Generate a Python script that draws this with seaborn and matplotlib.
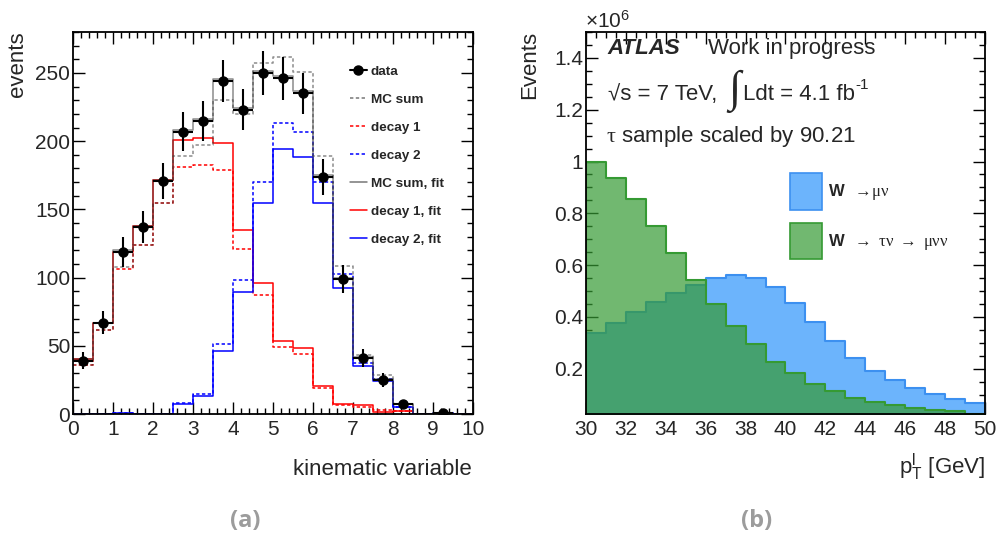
import numpy as np
import matplotlib
matplotlib.use("Agg")
import matplotlib.pyplot as plt
import seaborn as sns
from matplotlib.lines import Line2D
from matplotlib.patches import Patch
from matplotlib.ticker import MultipleLocator, FuncFormatter

# ---------------- panel (a): two-component template fit ----------------
edges_a = np.arange(0.0, 10.01, 0.5)
data_counts = [39, 67, 119, 137, 171, 207, 215, 244, 223, 250,
               246, 235, 174, 99, 41, 25, 7, 0, 1, 0]
decay1_mc = [35.6, 61.5, 106.6, 123.7, 154.7, 181.0, 182.8, 179.0, 121.3, 87.1,
             48.8, 43.7, 18.8, 6.3, 5.5, 2.9, 2.0, 0, 0, 0]
decay2_mc = [0, 0, 1.0, 0.3, 0, 8.0, 14.6, 51.0, 98.6, 170.0,
             213.0, 206.7, 170.0, 102.3, 37.6, 25.6, 5.5, 0, 1.0, 0]
decay1_fit = [40.0, 67.0, 119.0, 137.6, 171.8, 200.6, 202.5, 199.0, 134.7, 96.4,
              53.7, 48.5, 20.5, 7.3, 6.6, 1.5, 2.4, 0, 0, 0]
decay2_fit = [0, 0, 1.0, 0.3, 0, 7.3, 13.4, 46.4, 89.5, 154.7,
              194.0, 188.3, 154.7, 92.5, 35.4, 24.4, 4.9, 0, 1.0, 0]

# ---------------- panel (b): muon pT spectra, in units of 10^6 events ----------------
edges_b = np.arange(30, 51, 1)
w_munu = [0.337, 0.378, 0.419, 0.456, 0.492, 0.524, 0.549, 0.561, 0.551, 0.515,
          0.454, 0.379, 0.306, 0.243, 0.193, 0.155, 0.124, 0.101, 0.083, 0.068]
w_taunu = [1.000, 0.935, 0.856, 0.751, 0.648, 0.543, 0.450, 0.365, 0.295, 0.224,
           0.185, 0.142, 0.115, 0.088, 0.073, 0.060, 0.050, 0.040, 0.035, 0.027]

sns.set_style("ticks")
plt.rcParams["font.family"] = ["Liberation Sans", "DejaVu Sans"]
plt.rcParams["mathtext.fontset"] = "custom"
plt.rcParams["mathtext.rm"] = "Liberation Serif"
plt.rcParams["mathtext.it"] = "Liberation Serif"
plt.rcParams["mathtext.bf"] = "Liberation Sans:bold"
plt.rcParams["mathtext.sf"] = "Liberation Sans"
plt.rcParams["mathtext.default"] = "regular"

TICK_FS = 15
TITLE_FS = 16
LABEL_FS = 16

fig = plt.figure(figsize=(10.01, 5.40), dpi=100)
ax_a = fig.add_axes([0.0729, 0.2333, 0.3996, 0.7074])
ax_b = fig.add_axes([0.5854, 0.2333, 0.3986, 0.7074])


def step_hist(ax, edges, counts, **kw):
    centers = 0.5 * (edges[:-1] + edges[1:])
    sns.histplot(x=centers, weights=counts, bins=list(edges), element="step",
                 ax=ax, **kw)


def root_frame(ax, xmaj, xmin, ymaj, ymin):
    ax.xaxis.set_major_locator(MultipleLocator(xmaj))
    ax.xaxis.set_minor_locator(MultipleLocator(xmin))
    ax.yaxis.set_major_locator(MultipleLocator(ymaj))
    ax.yaxis.set_minor_locator(MultipleLocator(ymin))
    ax.tick_params(which="both", direction="in", top=True, right=True,
                   color="black", width=1.0)
    ax.tick_params(which="major", length=8.5)
    ax.tick_params(which="minor", length=4.2)
    ax.tick_params(axis="x", which="major", labelsize=TICK_FS, pad=4)
    ax.tick_params(axis="y", which="major", labelsize=TICK_FS, pad=2)
    for s in ax.spines.values():
        s.set_linewidth(1.3)
        s.set_color("black")
        s.set_zorder(5)
    ax.set_xlabel("")
    ax.set_ylabel("")


# ---- panel (a) ----
lw = 1.1
dash = (0, (2.2, 1.6))
step_hist(ax_a, edges_a, decay1_mc, fill=False, color="red", linestyle=dash, linewidth=lw)
step_hist(ax_a, edges_a, decay2_mc, fill=False, color="blue", linestyle=dash, linewidth=lw)
step_hist(ax_a, edges_a, decay1_fit, fill=False, color="red", linewidth=lw)
step_hist(ax_a, edges_a, decay2_fit, fill=False, color="blue", linewidth=lw)
mc_sum = np.add(decay1_mc, decay2_mc)
fit_sum = np.add(decay1_fit, decay2_fit)
step_hist(ax_a, edges_a, mc_sum, fill=False, color="#404040", alpha=0.6,
          linestyle=dash, linewidth=lw)
step_hist(ax_a, edges_a, fit_sum, fill=False, color="#404040", alpha=0.6, linewidth=lw)

centers_a = 0.5 * (edges_a[:-1] + edges_a[1:])
dc = np.asarray(data_counts, dtype=float)
nz = dc > 0
ax_a.errorbar(centers_a[nz], dc[nz], xerr=0.25, yerr=np.sqrt(dc[nz]), fmt="o",
              color="black", ms=6.5, elinewidth=1.5, capsize=0, zorder=4)

ax_a.set_xlim(0, 10)
ax_a.set_ylim(0, 280)
root_frame(ax_a, 1, 0.2, 50, 10)

handles_a = [
    Line2D([], [], color="black", marker="o", ms=6.5, lw=1.5),
    Line2D([], [], color="#777777", ls=dash, lw=lw),
    Line2D([], [], color="red", ls=dash, lw=lw),
    Line2D([], [], color="blue", ls=dash, lw=lw),
    Line2D([], [], color="#777777", lw=lw),
    Line2D([], [], color="red", lw=lw),
    Line2D([], [], color="blue", lw=lw),
]
labels_a = ["data", "MC sum", "decay 1", "decay 2", "MC sum, fit",
            "decay 1, fit", "decay 2, fit"]
ax_a.legend(handles_a, labels_a, loc="upper left", bbox_to_anchor=(0.6925, 0.912),
            frameon=False, borderpad=0, borderaxespad=0, handlelength=1.25,
            handletextpad=0.3, labelspacing=1.15, prop={"weight": "bold", "size": 9.7})

fig.text(18 / 1001, 1 - 31 / 540, "events", rotation=90, ha="center", va="top",
         fontsize=TITLE_FS)
fig.text(472 / 1001, 1 - 475 / 540, "kinematic variable", ha="right", va="baseline",
         fontsize=TITLE_FS)

# ---- panel (b) ----
blue_fill = "#6cb4fc"
blue_edge = "#3c90f0"
green = "#359a33"
step_hist(ax_b, edges_b, w_munu, fill=True, color=blue_fill, alpha=1.0,
          edgecolor=blue_edge, linewidth=1.5)
step_hist(ax_b, edges_b, w_taunu, fill=True, color=green, alpha=0.7,
          edgecolor=green, linewidth=1.5)
ax_b.set_xlim(30, 50)
ax_b.set_ylim(0.025, 1.5)
root_frame(ax_b, 2, 0.5, 0.2, 0.05)
ax_b.yaxis.set_major_formatter(FuncFormatter(lambda v, p: f"{v:g}"))

handles_b = [
    Patch(facecolor=blue_fill, edgecolor=blue_edge, linewidth=1.2),
    Patch(facecolor=(0x35 / 255, 0x9a / 255, 0x33 / 255, 0.7), edgecolor=green, linewidth=1.2),
]
labels_b = [r"$\mathbf{W}\ \ \mathrm{\rightarrow\!\mu\nu}$",
            r"$\mathbf{W}\ \ \mathrm{\rightarrow\ \tau\nu\ \rightarrow\ \mu\nu\nu}$"]
ax_b.legend(handles_b, labels_b, loc="upper left", bbox_to_anchor=(0.511, 0.631),
            frameon=False, borderpad=0, borderaxespad=0, handlelength=1.9,
            handleheight=3.0, handletextpad=0.4, labelspacing=0.8,
            prop={"size": 12})

ax_b.text(0.0526, 0.9416, "ATLAS", transform=ax_b.transAxes, fontsize=LABEL_FS,
          fontweight="bold", fontstyle="italic", va="baseline")
ax_b.text(0.3066, 0.9416, "Work in progress", transform=ax_b.transAxes,
          fontsize=LABEL_FS, va="baseline")
ax_b.text(0.055, 0.822, "\u221as = 7 TeV,", transform=ax_b.transAxes,
          fontsize=LABEL_FS, va="baseline")
ax_b.text((734 - 586) / 399, (414 - 91) / 382, "\u222b", transform=ax_b.transAxes,
          fontsize=32, ha="center", va="center", family="Liberation Serif")
lumi = ax_b.text((743 - 586) / 399, 0.822, "Ldt = 4.1 fb", transform=ax_b.transAxes,
                 fontsize=LABEL_FS, va="baseline")
ax_b.annotate("-1", xy=(1.0, 0.62), xycoords=lumi, ha="left", va="bottom",
              fontsize=11)
ax_b.text(0.050, 0.713, r"$\mathrm{\tau}$ sample scaled by 90.21",
          transform=ax_b.transAxes, fontsize=LABEL_FS, va="baseline")

fig.text(585 / 1001, 1 - 28 / 540, r"$\times$10$^{6}$", ha="left", va="baseline",
         fontsize=TICK_FS)
fig.text(530 / 1001, 1 - 31 / 540, "Events", rotation=90, ha="center", va="top",
         fontsize=TITLE_FS)
fig.text(985 / 1001, 1 - 474 / 540, r"p$_{T}^{l}$ [GeV]", ha="right", va="baseline",
         fontsize=TITLE_FS)

# sub-figure captions
fig.text(245 / 1001, 1 - 521 / 540, "(a)", ha="center", va="center", fontsize=17,
         fontweight="bold", color="#9c9c9c", family=["Open Sans", "DejaVu Sans"])
fig.text(757 / 1001, 1 - 521 / 540, "(b)", ha="center", va="center", fontsize=17,
         fontweight="bold", color="#9c9c9c", family=["Open Sans", "DejaVu Sans"])

fig.savefig("out.png", dpi=100)
